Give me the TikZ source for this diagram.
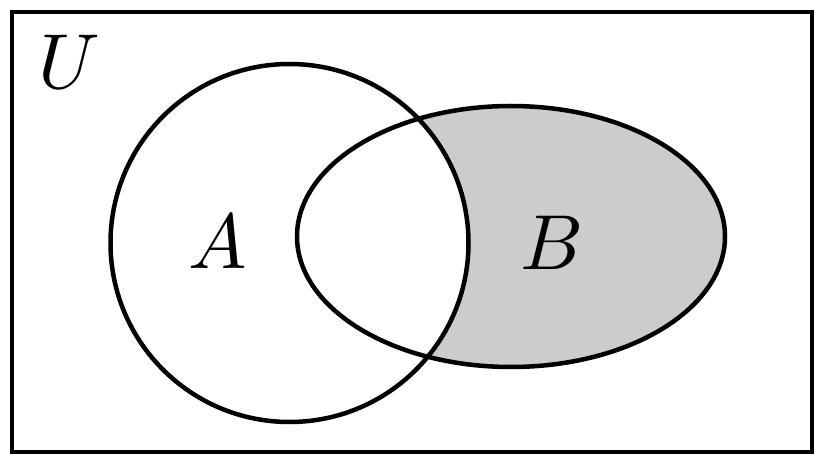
\documentclass[tikz,border=0pt]{standalone}
\definecolor{grauB}{HTML}{CCCCCC}
\begin{document}
\begin{tikzpicture}[x=1pt,y=-1pt,line width=4.5pt]
        \useasboundingbox (0,0) rectangle (823,465);
        \coordinate (mA) at (289.5,243);
        \coordinate (mB) at (511,236.5);

        % Mengen
        \fill[grauB] (mB) ellipse [x radius=214, y radius=130.5];
        \fill[white] (mA) circle [radius=179];
        \draw (12,12) rectangle (812,452);
        \draw (mA) circle [radius=179];
        \draw (mB) ellipse [x radius=214, y radius=130.5];

        % Bezeichnungen
        \begin{scope}[every node/.style={inner sep=0pt,scale=7.8}]
            \node (U) at (69,62) {$U$};
            \node (A) at (218,241.5) {$A$};
            \node (B) at (552,242.5) {$B$};
        \end{scope}
    \end{tikzpicture}
\end{document}
